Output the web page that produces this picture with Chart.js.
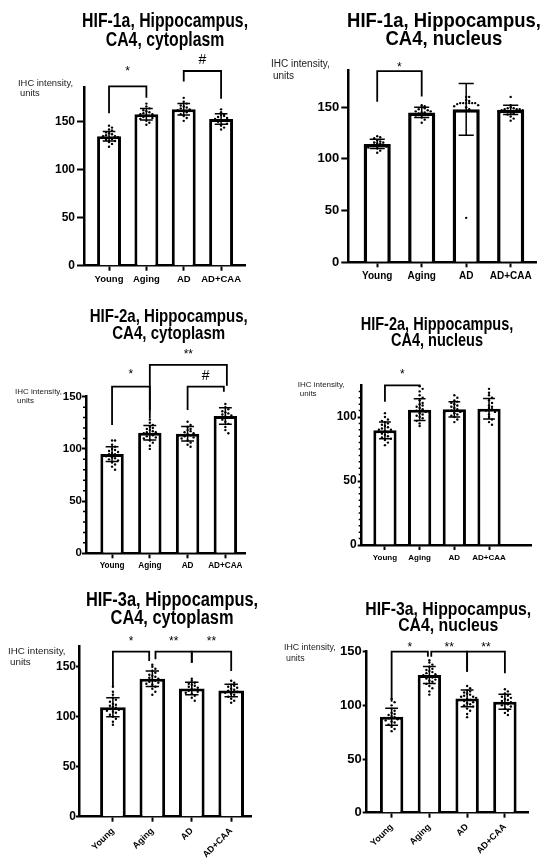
<!DOCTYPE html>
<html>
<head>
<meta charset="utf-8">
<script src="https://cdn.jsdelivr.net/npm/chart.js@4.4.0/dist/chart.umd.min.js"></script>
<style>
  html, body { margin: 0; padding: 0; background: #fff; }
  body { width: 550px; height: 866px; position: relative; overflow: hidden; }
  canvas { position: absolute; left: 0; top: 0; }
</style>
</head>
<body>
<script>
// ---------- DATA ----------
const categories = ['Young', 'Aging', 'AD', 'AD+CAA'];
const ticksTo150 = [0, 50, 100, 150];
const ticksTo100 = [0, 50, 100];

// HIF-1a cytoplasm
const hif1CytoMeans = [135, 158, 163, 153];
const hif1CytoSD = [5, 6, 6, 5.5];
const hif1CytoDots = [
  [146, 144, 142, 141, 139, 138, 137, 136, 135, 135, 134, 133, 132, 131, 130, 129, 127, 124],
  [169, 166, 164, 162, 161, 160, 159, 158, 158, 157, 156, 155, 154, 153, 151, 149, 147],
  [175, 171, 169, 167, 166, 165, 164, 163, 162, 161, 160, 158, 156, 154, 151],
  [163, 160, 158, 157, 156, 155, 154, 153, 152, 151, 150, 148, 146, 144, 142]
];
const hif1CytoBrackets = [
  { from: 0, to: 1, level: 187, fromEnd: 159, toEnd: 175, text: '*', textLevel: 205 },
  { from: 2, to: 3, level: 203, fromEnd: 192, toEnd: 174, text: '#', textLevel: 214 }
];

// HIF-1a nucleus
const hif1NucMeans = [114.5, 145, 148, 147.5];
const hif1NucSD = [4.5, 5, 25, 4.5];
const hif1NucDots = [
  [122, 121, 120, 118, 117, 116, 116, 115, 115, 114, 114, 113, 112, 111, 110, 108, 106],
  [152, 151, 150, 149, 148, 147, 146, 146, 145, 145, 144, 143, 142, 140, 138, 135],
  [160, 160, 157, 156, 154, 154, 154, 154, 154, 154, 153, 152, 151, 150, 148, 43],
  [160, 152, 150, 149, 149, 148, 148, 148, 147, 147, 146, 145, 144, 143, 141, 139, 137]
];
const hif1NucBrackets = [
  { from: 0, to: 1, level: 185, fromEnd: 155.4, toEnd: 160.3, text: '*', textLevel: 191 }
];

// HIF-2a cytoplasm
const hif2CytoMeans = [95, 115.5, 114.5, 131.5];
const hif2CytoSD = [7, 7, 7, 8];
const hif2CytoDots = [
  [108, 108, 104, 102, 100, 99, 98, 97, 96, 95, 95, 94, 93, 92, 91, 90, 89, 87, 85, 83, 80],
  [128, 125, 123, 121, 120, 119, 118, 117, 116, 116, 115, 114, 113, 112, 111, 110, 108, 106, 103, 100],
  [126, 123, 121, 119, 118, 117, 116, 115, 114, 113, 112, 111, 110, 108, 106, 104, 102],
  [155, 155, 143, 140, 138, 136, 135, 134, 133, 132, 131, 130, 128, 126, 124, 121, 118, 115]
];
const hif2CytoBrackets = [
  { from: 0, to: 1, level: 159.6, fromEnd: 123, toEnd: 129, text: '*', textLevel: 174 },
  { from: 1, to: 3.04, level: 180.4, fromEnd: 137, toEnd: 160.5, text: '**', textLevel: 193 },
  { from: 2, to: 2.96, level: 159.6, fromEnd: 137.3, toEnd: 154.8, text: '#', textLevel: 169.8 }
];

// HIF-2a nucleus
const hif2NucMeans = [89.6, 105.7, 106, 106.5];
const hif2NucSD = [6.5, 8.5, 6, 8];
const hif2NucDots = [
  [103, 100, 98, 97, 96, 95, 94, 93, 92, 91, 90, 90, 89, 88, 87, 86, 85, 84, 83, 82, 80, 78],
  [124, 122, 120, 117, 115, 113, 111, 110, 109, 108, 107, 106, 105, 104, 103, 102, 101, 100, 99, 97, 95, 93],
  [117, 115, 113, 112, 111, 110, 109, 108, 107, 106, 105, 104, 103, 102, 101, 100, 98, 96],
  [122, 119, 117, 115, 113, 111, 109, 108, 107, 106, 105, 104, 102, 100, 98, 96, 94]
];
const hif2NucBrackets = [
  { from: 0, to: 1, level: 124.7, fromEnd: 112, toEnd: 123.4, text: '*', textLevel: 135.6 }
];

// HIF-3a cytoplasm
const hif3CytoMeans = [109.5, 138, 128.2, 126.2];
const hif3CytoSD = [9.5, 7.7, 6.2, 6.2];
const hif3CytoDots = [
  [130, 125, 122, 119, 117, 115, 113, 112, 111, 110, 109, 108, 107, 106, 105, 104, 102, 100, 98, 95, 92],
  [152, 150, 148, 146, 144, 142, 141, 140, 139, 138, 137, 136, 135, 134, 133, 132, 130, 128, 125, 122],
  [138, 136, 134, 133, 132, 131, 130, 129, 128, 127, 126, 125, 124, 123, 121, 119, 116],
  [136, 134, 132, 131, 130, 129, 128, 127, 126, 125, 124, 123, 122, 120, 118, 116, 114]
];
const hif3CytoBrackets = [
  { from: 0, to: 0.92, level: 165, fromEnd: 130.6, toEnd: 155.7, text: '*', textLevel: 177.5 },
  { from: 1.08, to: 2, level: 165, fromEnd: 157.4, toEnd: 154, text: '**', textLevel: 177.5 },
  { from: 2, to: 3, level: 165, fromEnd: 154, toEnd: 145.6, text: '**', textLevel: 177.5 }
];

// HIF-3a nucleus
const hif3NucMeans = [89.4, 128.3, 106.5, 103.4];
const hif3NucSD = [8, 8, 7.8, 7];
const hif3NucDots = [
  [106, 103, 100, 97, 95, 93, 92, 91, 90, 89, 88, 87, 86, 85, 84, 82, 80, 78, 76],
  [142, 140, 138, 136, 134, 133, 132, 131, 130, 129, 128, 127, 126, 125, 124, 123, 122, 120, 118, 116, 113, 110],
  [118, 116, 114, 113, 112, 111, 110, 109, 108, 108, 107, 106, 105, 104, 103, 102, 101, 100, 99, 97, 95, 92, 89],
  [115, 113, 111, 109, 108, 107, 106, 105, 104, 103, 102, 101, 100, 99, 97, 95, 93, 91]
];
const hif3NucBrackets = [
  { from: 0, to: 0.96, level: 150, fromEnd: 103.4, toEnd: 145.3, text: '*', textLevel: 156.2 },
  { from: 1.05, to: 2, level: 150, fromEnd: 145.3, toEnd: 131.4, text: '**', textLevel: 156.2 },
  { from: 2, to: 3, level: 150, fromEnd: 131.4, toEnd: 129.9, text: '**', textLevel: 156.2 }
];

// ---------- LAYOUT / STYLE ----------
const FONT = '"Liberation Sans", Arial, Helvetica, sans-serif';
const PAGE_W = 550, PAGE_H = 866;
const Y_AXIS_W = 40;

const panels = [
  { area: [84, 245, 87.3, 265.7], xRange: [-0.67, 3.64], yMax: 186, yTicks: ticksTo150,
    means: hif1CytoMeans, sd: hif1CytoSD, dots: hif1CytoDots, brackets: hif1CytoBrackets,
    title: ['HIF-1a, Hippocampus,', 'CA4, cytoplasm'], titleY: [21, 40], titleSize: 20, titleSX: 0.79,
    minor: 0, rot: 0, xH: 22, xFont: 9.5, yFont: 12, yTick: [7, 2], yLab: [18, 83, 93.5, 9.4], barPct: 0.64, barBorder: 3 },
  { area: [348.3, 536.7, 70, 262.3], xRange: [-0.65, 3.585], yMax: 186, yTicks: ticksTo150,
    means: hif1NucMeans, sd: hif1NucSD, dots: hif1NucDots, brackets: hif1NucBrackets,
    title: ['HIF-1a, Hippocampus,', 'CA4, nucleus'], titleY: [21, 39.5], titleSize: 20.5, titleSX: 0.9,
    minor: 0, rot: 0, xH: 24, xFont: 10, yFont: 13, yTick: [7, 2], yLab: [271, 64.7, 76, 10], barPct: 0.61, barBorder: 3.5 },
  { area: [86, 245, 396.7, 553.3], xRange: [-0.69, 3.52], yMax: 150, yTicks: ticksTo150,
    means: hif2CytoMeans, sd: hif2CytoSD, dots: hif2CytoDots, brackets: hif2CytoBrackets,
    title: ['HIF-2a, Hippocampus,', 'CA4, cytoplasm'], titleY: [316.7, 333.7], titleSize: 18.6, titleSX: 0.81,
    minor: 10, rot: 0, xH: 22, xFont: 8.2, yFont: 11.5, yTick: [4, 0], yLab: [15, 391.7, 400.5, 8], barPct: 0.62, barBorder: 3 },
  { area: [361.7, 531.7, 385, 545], xRange: [-0.67, 4.23], yMax: 125, yTicks: ticksTo100,
    means: hif2NucMeans, sd: hif2NucSD, dots: hif2NucDots, brackets: hif2NucBrackets,
    title: ['HIF-2a, Hippocampus,', 'CA4, nucleus'], titleY: [324.5, 341], titleSize: 18.4, titleSX: 0.79,
    minor: 5, rot: 0, xH: 22, xFont: 8, yFont: 12, yTick: [4, 1], yLab: [297.7, 384.3, 393.3, 8], barPct: 0.67, barBorder: 3 },
  { area: [79, 251.7, 646.7, 816.7], xRange: [-0.86, 3.52], yMax: 170, yTicks: ticksTo150,
    means: hif3CytoMeans, sd: hif3CytoSD, dots: hif3CytoDots, brackets: hif3CytoBrackets,
    title: ['HIF-3a, Hippocampus,', 'CA4, cytoplasm'], titleY: [600.7, 618.5], titleSize: 20, titleSX: 0.82,
    minor: 0, rot: 45, xH: 48, xFont: 9, yFont: 12, yTick: [3, 0], yLab: [8, 651, 662, 9.8], barPct: 0.65, barBorder: 3 },
  { area: [366.7, 528.3, 651.7, 812.7], xRange: [-0.66, 3.62], yMax: 150, yTicks: ticksTo150,
    means: hif3NucMeans, sd: hif3NucSD, dots: hif3NucDots, brackets: hif3NucBrackets,
    title: ['HIF-3a, Hippocampus,', 'CA4, nucleus'], titleY: [610, 626], titleSize: 18.6, titleSX: 0.85,
    minor: 0, rot: 45, xH: 50, xFont: 9, yFont: 13, yTick: [4, 1], yLab: [284, 647.7, 658.3, 8.8], barPct: 0.62, barBorder: 3 }
];

// beeswarm-like horizontal spread of points that share a similar value
function swarm(values, groupIndex, pxPerUnit, pxPerCat) {
  const bins = {};
  return values.map(v => {
    const b = Math.round(v * pxPerUnit / 4.5);
    bins[b] = (bins[b] || 0) + 1;
    const n = bins[b] - 1;
    const step = Math.ceil(n / 2) * (n % 2 ? 1 : -1);
    return { x: groupIndex + step * 3 / pxPerCat, y: v };
  });
}

const decor = {
  id: 'decor',
  afterDatasetsDraw(chart) {
    const p = chart.canvas.$panel; if (!p) return;
    const xs = chart.scales.x, ys = chart.scales.y, ctx = chart.ctx;
    ctx.save();
    ctx.strokeStyle = '#000';
    ctx.lineWidth = 1.5;
    p.means.forEach((m, i) => {
      const x = xs.getPixelForValue(i);
      const hw = xs.getPixelForValue(i + 0.17) - x;
      const yt = ys.getPixelForValue(m + p.sd[i]);
      const yb = ys.getPixelForValue(m - p.sd[i]);
      ctx.beginPath();
      ctx.moveTo(x, yt); ctx.lineTo(x, yb);
      ctx.moveTo(x - hw, yt); ctx.lineTo(x + hw, yt);
      ctx.moveTo(x - hw, yb); ctx.lineTo(x + hw, yb);
      ctx.stroke();
    });
    ctx.restore();
  },
  afterDraw(chart) {
    const p = chart.canvas.$panel; if (!p) return;
    const xs = chart.scales.x, ys = chart.scales.y, ctx = chart.ctx;
    ctx.save();
    // minor ticks
    if (p.minor) {
      ctx.strokeStyle = '#000'; ctx.lineWidth = 1.5;
      ctx.beginPath();
      for (let v = p.minor; v < p.yMax; v += p.minor) {
        if (p.yTicks.includes(v)) continue;
        const y = ys.getPixelForValue(v);
        ctx.moveTo(chart.chartArea.left - 3, y); ctx.lineTo(chart.chartArea.left, y);
      }
      ctx.stroke();
    }
    // significance brackets
    ctx.strokeStyle = '#000'; ctx.lineWidth = 1.8; ctx.lineJoin = 'miter';
    p.brackets.forEach(b => {
      const x1 = xs.getPixelForValue(b.from), x2 = xs.getPixelForValue(b.to);
      const yl = ys.getPixelForValue(b.level);
      ctx.beginPath();
      ctx.moveTo(x1, ys.getPixelForValue(b.fromEnd));
      ctx.lineTo(x1, yl); ctx.lineTo(x2, yl);
      ctx.lineTo(x2, ys.getPixelForValue(b.toEnd));
      ctx.stroke();
      const isHash = b.text === '#';
      const fs = isHash ? 14 : 12;
      ctx.font = `${fs}px ${FONT}`;
      ctx.fillStyle = '#000'; ctx.textAlign = 'center'; ctx.textBaseline = 'middle';
      const tx = xs.getPixelForValue((b.from + b.to) / 2);
      const ty = ys.getPixelForValue(b.textLevel) + (isHash ? 0 : 0.23 * fs);
      ctx.fillText(b.text, tx, ty);
    });
    // title (condensed bold, centred over the bars)
    ctx.font = `bold ${p.titleSize}px ${FONT}`;
    ctx.fillStyle = '#000'; ctx.textAlign = 'center'; ctx.textBaseline = 'middle';
    const cx = xs.getPixelForValue((categories.length - 1) / 2);
    p.title.forEach((line, k) => {
      ctx.save();
      ctx.translate(cx, p.titleY[k]);
      ctx.scale(p.titleSX, 1);
      ctx.fillText(line, 0, 0);
      ctx.restore();
    });
    // y axis caption
    ctx.font = `${p.yLab[3]}px ${FONT}`;
    ctx.fillStyle = '#222'; ctx.textAlign = 'left'; ctx.textBaseline = 'middle';
    ctx.fillText('IHC intensity,', p.yLab[0], p.yLab[1]);
    ctx.fillText('units', p.yLab[0] + 2, p.yLab[2]);
    ctx.restore();
  }
};

panels.forEach(p => {
  const [al, ar, at, ab] = p.area;
  const cv = document.createElement('canvas');
  cv.width = PAGE_W; cv.height = PAGE_H;
  cv.style.width = PAGE_W + 'px'; cv.style.height = PAGE_H + 'px';
  cv.$panel = p;
  document.body.appendChild(cv);

  const pxPerUnit = (ab - at) / p.yMax;
  const pxPerCat = (ar - al) / (p.xRange[1] - p.xRange[0]);
  const dotData = [];
  p.dots.forEach((grp, gi) => dotData.push(...swarm(grp, gi, pxPerUnit, pxPerCat)));

  new Chart(cv, {
    type: 'bar',
    data: {
      datasets: [
        { type: 'bar', data: p.means.map((m, i) => ({ x: i, y: m })),
          backgroundColor: '#fff', borderColor: '#000', borderWidth: p.barBorder, borderSkipped: 'start',
          barPercentage: p.barPct, categoryPercentage: 1, order: 2 },
        { type: 'scatter', data: dotData, pointRadius: 1.2, pointBackgroundColor: '#000',
          pointBorderWidth: 0, clip: false, order: 1 }
      ]
    },
    options: {
      responsive: false, devicePixelRatio: 1, animation: false, events: [],
      layout: { padding: { left: al - Y_AXIS_W, right: PAGE_W - ar, top: at, bottom: PAGE_H - ab - p.xH } },
      plugins: { legend: { display: false }, tooltip: { enabled: false }, title: { display: false } },
      scales: {
        x: {
          type: 'linear', min: p.xRange[0], max: p.xRange[1], offset: false,
          afterBuildTicks: s => { s.ticks = categories.map((c, i) => ({ value: i })); },
          afterFit: s => { s.height = p.xH; },
          ticks: { callback: v => categories[v] ?? '', color: '#000', autoSkip: false,
                   maxRotation: p.rot, minRotation: p.rot, padding: p.rot ? 4 : 3,
                   font: { family: FONT, size: p.xFont, weight: 'bold' } },
          grid: { display: true, drawOnChartArea: false, drawTicks: true, tickLength: 5, tickWidth: 2,
                  tickColor: '#000', offset: false },
          border: { display: true, color: '#000', width: 2.5 }
        },
        y: {
          min: 0, max: p.yMax,
          afterBuildTicks: s => { s.ticks = p.yTicks.map(v => ({ value: v })); },
          afterFit: s => { s.width = Y_AXIS_W; },
          ticks: { color: '#000', padding: p.yTick[1], font: { family: FONT, size: p.yFont, weight: 'bold' } },
          grid: { display: true, drawOnChartArea: false, drawTicks: true, tickLength: p.yTick[0], tickWidth: 2, tickColor: '#000' },
          border: { display: true, color: '#000', width: 2.5 }
        }
      }
    },
    plugins: [decor]
  });
});
</script>
</body>
</html>
